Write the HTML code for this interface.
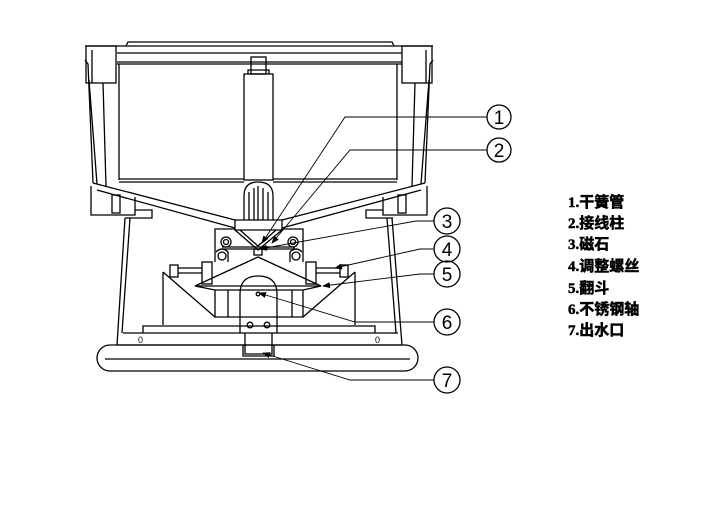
<!DOCTYPE html>
<html><head><meta charset="utf-8"><style>
html,body{margin:0;padding:0;background:#fff;}
svg{display:block;}
.l{font-family:"Liberation Serif","Noto Sans CJK SC",sans-serif;font-weight:bold;font-size:15px;fill:#000;stroke:#000;stroke-width:0.5;}
.n{font-family:"Liberation Sans",sans-serif;font-size:19px;fill:#000;}
</style></head><body>
<svg width="711" height="508" viewBox="0 0 711 508" xmlns="http://www.w3.org/2000/svg">
<defs><marker id="a" markerWidth="8" markerHeight="6" refX="7" refY="3" orient="auto" markerUnits="userSpaceOnUse"><path d="M0,0 L8,3 L0,6z" fill="#000"/></marker></defs>
<g fill="none" stroke="#000" stroke-width="1.3">
<path d="M126,46 L128,42 L392,42 L394,46"/>
<path d="M85,46 L433,46"/>
<rect x="86" y="46" width="30" height="37"/>
<rect x="402" y="46" width="30" height="37"/>
<path d="M92,50 L92,83 M426,50 L426,83"/>
<path d="M117,53 L402,53 M117,62 L402,62 M117,64 L402,64"/>
<path d="M85,60 L88,64 L93,183 M433,60 L430,64 L425,183"/>
<path d="M89,80 L97,184 M429,80 L421,184"/>
<path d="M103,83 L106,186 M415,83 L412,186"/>
<path d="M119,64 L119,180 M397,64 L397,180"/>
<path d="M119,179 L244,179 M273,179 L397,179 M119,182 L244,182 M273,182 L397,182"/>
<rect x="244" y="74" width="29" height="106"/>
<rect x="251" y="57" width="15" height="17"/>
<path d="M248,74 L248,70 L269,70 L269,74"/>
<path d="M93,183 L235,220 M97,190 L235,228"/>
<path d="M425,183 L282,220 M421,190 L282,228"/>
<path d="M235,220 L282,220 L282,230 L235,230 Z"/>
<path d="M244,220 L244,196 Q244,182 258,182 Q273,182 273,196 L273,220"/>
<path d="M249,220 L249,192 M254,220 L254,188 M258,220 L258,186 M263,220 L263,188 M268,220 L268,192"/>
<path d="M91,186 L91,215 L135,215 L135,197 M427,186 L427,215 L383,215 L383,197"/>
<rect x="112" y="195" width="8" height="18"/><rect x="398" y="195" width="8" height="18"/>
<path d="M135,210 L152,210 L152,218 L125,218 M383,210 L366,210 L366,218 L393,218"/>
<path d="M125,218 L117,345 M130,218 L122,333"/>
<path d="M392,218 L402,345 M387,218 L396,333"/>
<path d="M215,262 L215,229 L235,229 M303,262 L303,229 L282,229"/>
<path d="M235,230 L258,250 L282,230 M240,230 L258,246 L276,230"/>
<circle cx="226" cy="242" r="5"/><circle cx="226" cy="242" r="2.5"/>
<circle cx="293" cy="242" r="5"/><circle cx="293" cy="242" r="2.5"/>
<path d="M222,247 L294,247 L294,249 L222,249"/>
<rect x="254" y="249" width="8" height="6"/>
<circle cx="222" cy="256" r="4"/><circle cx="296" cy="256" r="4"/>
<path d="M216,252 Q222,246 228,252 L228,262 M290,262 L290,252 Q296,246 302,252"/>
<rect x="170" y="265" width="8" height="12"/><path d="M178,268 L202,268 M178,273 L202,273"/><rect x="202" y="262" width="10" height="22"/>
<rect x="340" y="265" width="8" height="12"/><path d="M316,268 L340,268 M316,273 L340,273"/><rect x="306" y="262" width="10" height="22"/>
<path d="M195,286 L258,257 L321,286 Z"/>
<path d="M195,286 L215,290 L215,317 L303,317 L303,290 L321,286"/>
<path d="M215,290 L303,290 M228,290 L228,317 M292,290 L292,317"/>
<path d="M163,272 L163,325 M163,272 L215,317 M355,272 L355,325 M355,272 L303,317"/>
<path d="M240,333 L240,294 Q240,276 258,276 Q277,276 277,294 L277,333"/>
<circle cx="250" cy="325" r="2.8"/><circle cx="267" cy="325" r="2.8"/>
<circle cx="258" cy="294" r="1.8"/>
<path d="M143,333 L143,326 L375,326 L375,333"/>
<path d="M123,333 L398,333 M117,345 L402,345"/>
<text x="138" y="343" font-size="9" stroke="none" fill="#000" font-family="Liberation Sans">0</text>
<text x="375" y="343" font-size="9" stroke="none" fill="#000" font-family="Liberation Sans">0</text>
<path d="M245,333 L245,354 L272,354 L272,333 M243,345 L243,356 L274,356 L274,345"/>
<rect x="97" y="345" width="321" height="26" rx="13" ry="13"/>
<path d="M105,359 L410,359"/>
<g stroke-width="0.9">
<path d="M487,117 L345,117 L262,243" marker-end="url(#a)"/>
<path d="M487,150 L350,150 L272,243" marker-end="url(#a)"/>
<path d="M434,221 L416,221 L260,249" marker-end="url(#a)"/>
<path d="M434,249 L420,249 L335,268" marker-end="url(#a)"/>
<path d="M434,274 L420,274 L323,286" marker-end="url(#a)"/>
<path d="M434,322 L355,322 L259,293" marker-end="url(#a)"/>
<path d="M434,380 L350,380 L263,353" marker-end="url(#a)"/>
</g>
<circle cx="499" cy="117" r="12"/><circle cx="499" cy="150" r="12"/>
<circle cx="447" cy="221" r="13"/><circle cx="447" cy="249" r="13"/>
<circle cx="447" cy="274" r="13"/><circle cx="447" cy="322" r="13"/>
<circle cx="447" cy="380" r="13"/>
</g>
<g class="n" text-anchor="middle">
<text x="499" y="124">1</text><text x="499" y="157">2</text>
<text x="447" y="228">3</text><text x="447" y="256">4</text>
<text x="447" y="281">5</text><text x="447" y="329">6</text>
<text x="447" y="387">7</text>
</g>
<g class="l">
<text x="568" y="207">1.干簧管</text>
<text x="568" y="228">2.接线柱</text>
<text x="568" y="249">3.磁石</text>
<text x="568" y="271">4.调整螺丝</text>
<text x="568" y="293">5.翻斗</text>
<text x="568" y="314">6.不锈钢轴</text>
<text x="568" y="335">7.出水口</text>
</g>
</svg>
</body></html>
